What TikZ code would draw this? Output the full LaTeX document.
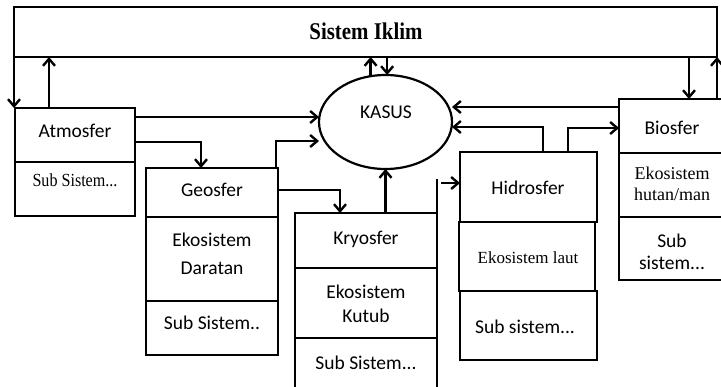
\documentclass[tikz,border=0pt]{standalone}
\usepackage{fontspec}
\setmainfont{Liberation Serif}
\newfontfamily\carl{Carlito}
\newfontfamily\nser[FakeStretch=0.87]{Liberation Serif}
\usetikzlibrary{arrows.meta,shapes.geometric,calc}
\tikzset{
  box/.style={draw, line width=2.4pt, inner sep=0pt, outer sep=0pt, anchor=north west},
  sanstxt/.style={font=\carl\fontsize{19.5}{24}\selectfont, inner sep=0pt, align=center},
  sertxt/.style={inner sep=0pt, align=center},
  conn/.style={line width=2.4pt, -{Straight Barb[length=7pt,width=12pt]}},
  plainline/.style={line width=2.4pt},
}
\begin{document}
\begin{tikzpicture}[x=1pt,y=-1pt]
\useasboundingbox (0,0) rectangle (721,386);
% boxes
\node[box, minimum width=703pt, minimum height=50pt] (sis) at (14,7) {};
\node[box, minimum width=120pt, minimum height=54pt] (atm1) at (15,108) {};
\node[box, minimum width=120pt, minimum height=54pt] (atm2) at (15,162) {};
\node[box, minimum width=132pt, minimum height=49pt] (geo1) at (146,168) {};
\node[box, minimum width=132pt, minimum height=84pt] (geo2) at (146,217) {};
\node[box, minimum width=132pt, minimum height=54pt] (geo3) at (146,301) {};
\node[box, minimum width=142pt, minimum height=55pt] (kry1) at (295,213) {};
\node[box, minimum width=142pt, minimum height=70pt] (kry2) at (295,268) {};
\node[box, minimum width=142pt, minimum height=54pt] (kry3) at (295,338) {};
\node[box, minimum width=137pt, minimum height=70pt] (hid1) at (460,152) {};
\node[box, minimum width=136pt, minimum height=69pt] (hid2) at (459,222) {};
\node[box, minimum width=137pt, minimum height=69pt] (hid3) at (460,291) {};
\node[box, minimum width=105pt, minimum height=54pt] (bio1) at (619,99) {};
\node[box, minimum width=105pt, minimum height=64pt] (bio2) at (619,153) {};
\node[box, minimum width=105pt, minimum height=63pt] (bio3) at (619,217) {};
\node[draw, ellipse, line width=2.2pt, inner sep=0pt, outer sep=0pt,
      minimum width=133pt, minimum height=94pt] (kasus) at (385.5,122) {};
% texts
\node[sertxt, font=\nser\bfseries\fontsize{24}{28}\selectfont] (tSis) at (366,31) {Sistem Iklim};
\node[sanstxt] (tKasus) at (386,112) {KASUS};
\node[sanstxt] (tAtm) at (75,131) {Atmosfer};
\node[sertxt, font=\nser\fontsize{18.5}{22}\selectfont] (tAtmSub) at (75,180) {Sub Sistem...};
\node[sanstxt] (tGeo) at (212,190) {Geosfer};
\node[sanstxt, font=\carl\fontsize{19.5}{28}\selectfont] (tGeoEko) at (212,254) {Ekosistem\\Daratan};
\node[sanstxt] (tGeoSub) at (212,323) {Sub Sistem..};
\node[sanstxt] (tKry) at (366,239) {Kryosfer};
\node[sanstxt, font=\carl\fontsize{19.5}{24}\selectfont] (tKryEko) at (366,304) {Ekosistem\\Kutub};
\node[sanstxt] (tKrySub) at (366,363) {Sub Sistem...};
\node[sanstxt] (tHid) at (528,188) {Hidrosfer};
\node[sertxt, font=\fontsize{17}{20}\selectfont] (tHidEko) at (528,258) {Ekosistem laut};
\node[sanstxt] (tHidSub) at (525,327) {Sub sistem...};
\node[sanstxt] (tBio) at (672,128) {Biosfer};
\node[sertxt, font=\fontsize{18}{21}\selectfont] (tBioEko) at (672,184) {Ekosistem\\hutan/man};
\node[sanstxt, font=\carl\fontsize{19.5}{22}\selectfont] (tBioSub) at (672,252) {Sub\\sistem...};
% connectors: Sistem Iklim
\draw[conn] (sis.south west) -- (sis.south west |- atm1.north);
\draw[conn] ([xshift=34pt]atm1.north west) -- ([xshift=34pt]atm1.north west |- sis.south);
\draw[conn] (kasus.108.7) -- (kasus.108.7 |- sis.south);
\draw[conn] (kasus.88 |- sis.south) -- (kasus.88);
\draw[conn] ([xshift=70pt]bio1.north west |- sis.south) -- ([xshift=70pt]bio1.north west);
\draw[conn] (sis.south east |- bio1.north) -- (sis.south east);
% Atmosfer
\draw[conn] ([yshift=-9pt]atm1.north east) -- ([yshift=-9pt]atm1.north east -| kasus.west);
\draw[conn] ([yshift=-34pt]atm1.north east) -| ([xshift=55pt]geo1.north west);
% Geosfer
\draw[conn] ([xshift=-2pt]geo1.north east) |- ([yshift=-19pt]kasus.west);
\draw[conn] ([yshift=-22pt]geo1.north east) -| ([xshift=45pt]kry1.north west);
% Kryosfer
\draw[conn] (kasus.south |- kry1.north) -- (kasus.south);
\draw[plainline] (kry1.north east) -- ([yshift=34pt]kry1.north east);
\draw[conn] ([xshift=-19pt,yshift=-31pt]hid1.north west) -- ([yshift=-31pt]hid1.north west);
% Hidrosfer
\draw[conn] ([xshift=83pt]hid1.north west) |- ([yshift=-5pt]kasus.east);
\draw[conn] ([xshift=108pt]hid1.north west) |- ([yshift=-29pt]bio1.north west);
% Biosfer
\draw[conn] ([yshift=-8pt]bio1.north west) -- ([yshift=-8pt]bio1.north west -| kasus.east);
\end{tikzpicture}
\end{document}
